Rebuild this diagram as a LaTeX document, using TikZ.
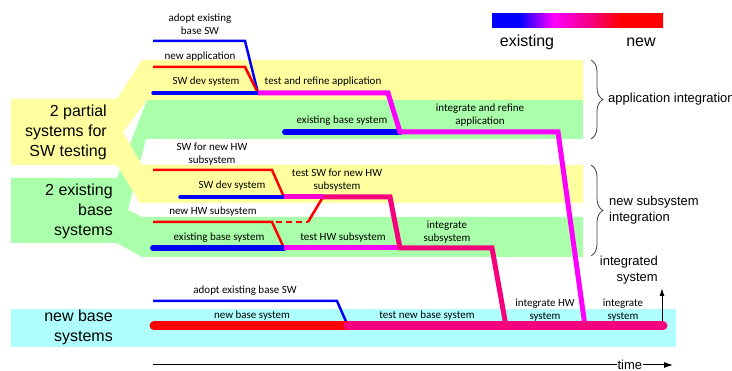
\documentclass[tikz,border=0pt]{standalone}
\usepackage{fontspec}
\setmainfont{Carlito}
\newfontfamily\arialfont{Liberation Sans}
\usetikzlibrary{arrows.meta,decorations.pathreplacing}

\definecolor{bandyellow}{RGB}{255,255,160}
\definecolor{bandgreen}{RGB}{170,255,170}
\definecolor{bandcyan}{RGB}{175,255,255}
\definecolor{fullblue}{RGB}{0,0,255}
\definecolor{fullred}{RGB}{255,0,0}
\definecolor{fullmag}{RGB}{255,0,255}
\definecolor{mixpink}{RGB}{245,0,125}
\definecolor{mixmag}{RGB}{255,0,210}
\pgfdeclarehorizontalshading{exnew}{100bp}{color(0bp)=(fullblue); color(33bp)=(fullblue); color(43bp)=(fullmag); color(54bp)=(mixpink); color(63bp)=(fullred); color(100bp)=(fullred)}

\tikzset{
	lbl/.style={font=\fontsize{11}{13.5}\selectfont, align=center, inner sep=0pt},
	biglbl/.style={font=\arialfont\fontsize{16}{20}\selectfont, align=right, inner sep=0pt, anchor=east},
	sidelbl/.style={font=\arialfont\fontsize{13}{16}\selectfont, inner sep=0pt},
	thinln/.style={line width=2.5pt},
	devln/.style={line width=3.5pt, line cap=round},
	runln/.style={line width=5pt},
	baseln/.style={line width=6pt, line cap=round},
	fatln/.style={line width=9pt, line cap=round},
	curly/.style={decorate, decoration={brace, amplitude=12pt}, black!75, line width=0.8pt},
}

\begin{document}
\begin{tikzpicture}[x=1pt,y=-1pt]
	\useasboundingbox (0,0) rectangle (732,371);

	% Bands
	\fill[bandgreen] (583,100) -- (147,100) -- (117,178) -- (11,178) -- (11,243) -- (117,243) -- (142,257) -- (583,257) -- (583,217) -- (142,217) -- (128,210) -- (146,139) -- (583,139) -- cycle;
	\fill[bandyellow] (583,60) -- (142,60) -- (117,99) -- (11,99) -- (11,165) -- (117,165) -- (140,203) -- (583,203) -- (583,165) -- (142,165) -- (123,132) -- (147,100) -- (583,100) -- cycle;
	\fill[bandcyan] (11,309) rectangle (676,347);

	% Legend
	\shade[shading=exnew] (492,14) rectangle (663,28);
	\node[font=\arialfont\fontsize{16}{20}\selectfont, anchor=base, inner sep=0pt] (existing) at (527,46.5) {existing};
	\node[font=\arialfont\fontsize{16}{20}\selectfont, anchor=base, inner sep=0pt] (new) at (641,46.5) {new};

	% Junctions
	\coordinate (appstart) at (258,93);
	\coordinate (appdrop) at (400,132);
	\coordinate (append) at (585,326);
	\coordinate (swhw) at (284,197);
	\coordinate (hwjoin) at (323,197);
	\coordinate (hwtest) at (284,248);
	\coordinate (subsys) at (400,248);
	\coordinate (subend) at (506,326);
	\coordinate (basejoin) at (348,326);
	\coordinate (baseend) at (663,326);

	% Application integration
	\draw[fullblue, thinln] (153,41) -- (245,41) -- (appstart);
	\draw[fullred, thinln] (153,67) -- (245,67) -- (appstart);
	\draw[fullblue, devln] (153,93) -- (appstart);
	\draw[fullblue, baseln] (285,132) -- (appdrop);
	\draw[fullmag, runln] (appstart) -- (388,93) -- (appdrop) -- (558,132) -- (append);

	% New subsystem integration
	\draw[fullred, thinln] (153,170) -- (272,170) -- (swhw);
	\draw[fullblue, devln] (180,197) -- (swhw);
	\draw[fullred, thinln] (153,222) -- (272,222) -- (hwtest);
	\draw[fullred, thinln, dash pattern=on 6pt off 4pt] (276,222) -- (308,222);
	\draw[fullred, thinln] (308,222) -- (hwjoin);
	\draw[fullblue, baseln] (153,248) -- (hwtest);
	\draw[mixmag, runln] (swhw) -- (hwjoin);
	\draw[fullmag, runln] (hwtest) -- (subsys);
	\draw[mixpink, runln] (hwjoin) -- (390,197) -- (subsys) -- (492,248) -- (subend);

	% New base system
	\draw[fullblue, thinln] (153,301) -- (337,301) -- (basejoin);
	\draw[fullred, fatln] (154,326) -- (basejoin);
	\draw[mixpink, fatln] (basejoin) -- (baseend);

	% Labels
	\node[lbl] (adopt1) at (200,24) {adopt existing\\base SW};
	\node[lbl] (newapp) at (200,57) {new application};
	\node[lbl] (swdev1) at (206,82) {SW dev system};
	\node[lbl] (refine) at (323,82) {test and refine application};
	\node[lbl] (exbase1) at (342,121) {existing base system};
	\node[lbl] (intapp) at (480,115) {integrate and refine\\application};
	\node[lbl] (swhwlbl) at (212,154) {SW for new HW\\subsystem};
	\node[lbl] (swdev2) at (232,186) {SW dev system};
	\node[lbl] (testsw) at (337,180) {test SW for new HW\\subsystem};
	\node[lbl] (newhw) at (213,212) {new HW subsystem};
	\node[lbl] (exbase2) at (219,238) {existing base system};
	\node[lbl] (testhw) at (343,238) {test HW subsystem};
	\node[lbl] (intsub) at (447,232) {integrate\\subsystem};
	\node[lbl] (adopt2) at (245,291) {adopt existing base SW};
	\node[lbl] (newbase) at (252,316) {new base system};
	\node[lbl] (testbase) at (427,316) {test new base system};
	\node[lbl] (inthw) at (545,310) {integrate HW\\system};
	\node[lbl] (intsys) at (623,310) {integrate\\system};

	\node[biglbl] (partial) at (107,132) {2 partial\\systems for\\SW testing};
	\node[biglbl] (exsys) at (113,211) {2 existing\\base\\systems};
	\node[biglbl] (newsys) at (113,327) {new base\\systems};

	% Braces
	\draw[curly] (591,60) -- (591,139);
	\draw[curly] (591,165) -- (591,256);
	\node[sidelbl, anchor=west] (appint) at (608,99) {application integration};
	\node[sidelbl, anchor=west, align=left] (subint) at (609,210) {new subsystem\\integration};

	% Result
	\coordinate (upstart) at (662,321);
	\coordinate (upend) at (662,288);
	\draw[arrows={-Latex[length=8pt,width=5pt]}, line width=1pt] (upstart) -- (upend);
	\node[sidelbl, anchor=east, align=right] (integrated) at (658,270) {integrated\\system};

	% Time axis
	\coordinate (tstart) at (153,365);
	\coordinate (tend) at (673,365);
	\draw[arrows={-Latex[length=9pt,width=6pt]}, line width=1pt] (tstart) -- (tend) node[sidelbl, pos=0.917, fill=white, inner sep=1pt] (time) {time};

\end{tikzpicture}
\end{document}
